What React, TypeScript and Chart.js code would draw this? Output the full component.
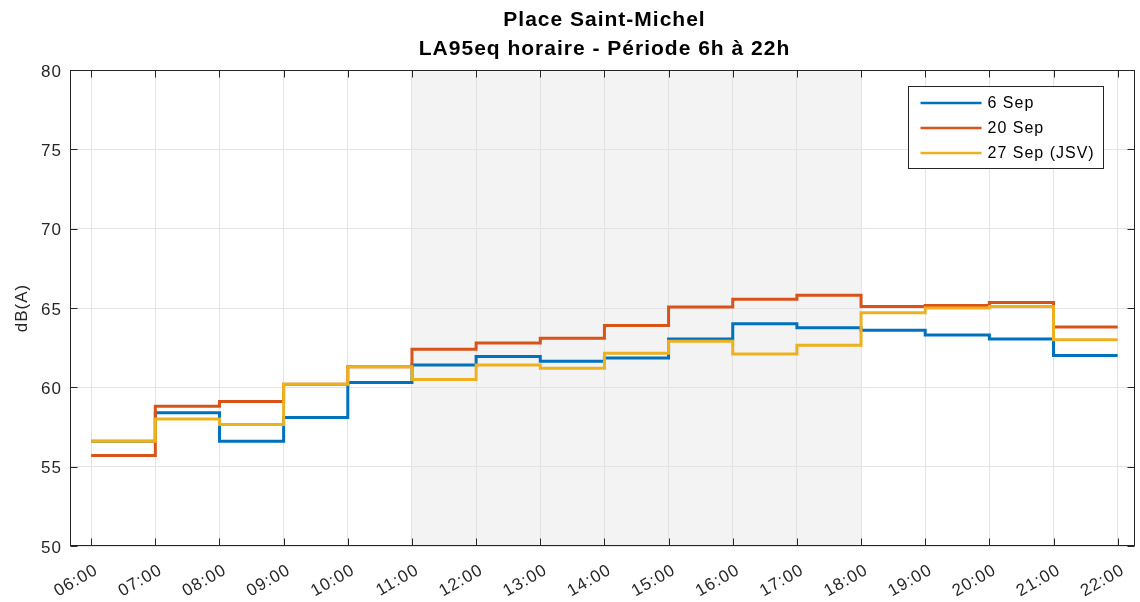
import React, { useEffect, useRef } from "react";
import { Chart, registerables } from "chart.js";

Chart.register(...registerables);

const TITLE_LINES = ["Place Saint-Michel", "LA95eq horaire - Période 6h à 22h"];
const Y_TITLE = "dB(A)";
const HOURS = [6, 7, 8, 9, 10, 11, 12, 13, 14, 15, 16, 17, 18, 19, 20, 21, 22];
const HOUR_LABELS = [
  "06:00", "07:00", "08:00", "09:00", "10:00", "11:00", "12:00", "13:00", "14:00",
  "15:00", "16:00", "17:00", "18:00", "19:00", "20:00", "21:00", "22:00",
];
const Y_TICKS = [50, 55, 60, 65, 70, 75, 80];
const SEP6 = [56.6, 58.4, 56.6, 58.1, 60.3, 61.4, 61.95, 61.65, 61.85, 63.05, 64.0, 63.75, 63.6, 63.3, 63.05, 62.0, 62.0];
const SEP20 = [55.7, 58.8, 59.1, 60.2, 61.3, 62.4, 62.8, 63.1, 63.9, 65.06, 65.55, 65.8, 65.1, 65.15, 65.35, 63.8, 63.8];
const SEP27 = [56.6, 58.0, 57.65, 60.2, 61.3, 60.5, 61.4, 61.2, 62.15, 62.9, 62.1, 62.65, 64.7, 65.0, 65.1, 63.0, 63.0];
const SERIES_NAMES = ["6 Sep", "20 Sep", "27 Sep (JSV)"];
const SERIES_COLORS = ["#0072BD", "#D95319", "#EDB120"];
const SHADE_START = 11;
const SHADE_END = 18;
const Y_MIN = 50;
const Y_MAX = 80;
const X_MIN = 5.67;
const X_MAX = 22.27;

const FONT = "'Liberation Sans', Arial, Helvetica, sans-serif";
const AX = "#262626";

const decorPlugin = {
  id: "decor",
  beforeDraw(chart: any) {
    const { ctx, chartArea: a, scales } = chart;
    const x0 = scales.x.getPixelForValue(SHADE_START);
    const x1 = scales.x.getPixelForValue(SHADE_END);
    ctx.save();
    ctx.fillStyle = "#f3f3f3";
    ctx.fillRect(x0, a.top, x1 - x0, a.bottom - a.top);
    ctx.restore();
  },
  afterDraw(chart: any) {
    const { ctx, chartArea: a, scales } = chart;
    ctx.save();
    ctx.letterSpacing = "1px";
    // title
    ctx.fillStyle = "#000";
    ctx.font = `bold 21px ${FONT}`;
    ctx.textAlign = "center";
    ctx.textBaseline = "middle";
    const cx = (a.left + a.right) / 2 + 2;
    ctx.fillText(TITLE_LINES[0], cx, 20);
    ctx.fillText(TITLE_LINES[1], cx, 49);
    // y title
    ctx.save();
    ctx.translate(22, (a.top + a.bottom) / 2);
    ctx.rotate(-Math.PI / 2);
    ctx.fillStyle = AX;
    ctx.font = `17px ${FONT}`;
    ctx.fillText(Y_TITLE, 0, 0);
    ctx.restore();
    // y tick labels
    ctx.fillStyle = AX;
    ctx.font = `17px ${FONT}`;
    ctx.textAlign = "right";
    ctx.textBaseline = "middle";
    Y_TICKS.forEach((v) => {
      ctx.fillText(String(v), a.left - 8, scales.y.getPixelForValue(v) + 2);
    });
    // x tick labels
    ctx.textBaseline = "alphabetic";
    HOURS.forEach((h, i) => {
      const x = scales.x.getPixelForValue(h);
      ctx.save();
      ctx.translate(x + 8, a.bottom + 27);
      ctx.rotate(-Math.PI / 6);
      ctx.fillText(HOUR_LABELS[i], 0, 0);
      ctx.restore();
    });
    // box
    ctx.strokeStyle = AX;
    ctx.lineWidth = 1;
    const L = Math.round(a.left) + 0.5;
    const R = Math.round(a.right) - 0.5;
    const T = Math.round(a.top) + 0.5;
    const B = Math.round(a.bottom) - 0.5;
    ctx.strokeRect(L, T, R - L, B - T);
    // ticks
    const tl = 7;
    ctx.beginPath();
    HOURS.forEach((h) => {
      const x = Math.round(scales.x.getPixelForValue(h)) + 0.5;
      ctx.moveTo(x, B);
      ctx.lineTo(x, B - tl);
      ctx.moveTo(x, T);
      ctx.lineTo(x, T + tl);
    });
    Y_TICKS.forEach((v) => {
      const y = Math.round(scales.y.getPixelForValue(v)) + 0.5;
      ctx.moveTo(L, y);
      ctx.lineTo(L + tl, y);
      ctx.moveTo(R, y);
      ctx.lineTo(R - tl, y);
    });
    ctx.stroke();
    // legend
    const bw = 195;
    const bh = 82;
    const bx = Math.round(a.right - 32 - bw) + 0.5;
    const by = Math.round(a.top + 16) + 0.5;
    ctx.fillStyle = "#fff";
    ctx.fillRect(bx, by, bw, bh);
    ctx.strokeStyle = AX;
    ctx.strokeRect(bx, by, bw, bh);
    ctx.font = `16px ${FONT}`;
    ctx.textAlign = "left";
    ctx.textBaseline = "middle";
    SERIES_NAMES.forEach((name, i) => {
      const y = by + 16.5 + i * 25;
      ctx.strokeStyle = SERIES_COLORS[i];
      ctx.lineWidth = 2.5;
      ctx.beginPath();
      ctx.moveTo(bx + 12, y);
      ctx.lineTo(bx + 73, y);
      ctx.stroke();
      ctx.fillStyle = "#000";
      ctx.fillText(name, bx + 79, y + 1);
    });
    ctx.restore();
  },
};

export default function App() {
  const ref = useRef<HTMLCanvasElement>(null);
  useEffect(() => {
    document.body.style.margin = "0";
    const mk = (d: number[]) => HOURS.map((h, i) => ({ x: h, y: d[i] }));
    const chart = new Chart(ref.current!, {
      type: "line",
      data: {
        datasets: [SEP6, SEP20, SEP27].map((d, i) => ({
          label: SERIES_NAMES[i],
          data: mk(d),
          borderColor: SERIES_COLORS[i],
          backgroundColor: SERIES_COLORS[i],
          borderWidth: 3,
          pointRadius: 0,
          stepped: true,
          fill: false,
          order: 2 - i,
        })),
      },
      options: {
        animation: false,
        responsive: false,
        maintainAspectRatio: false,
        layout: { padding: { left: 0, top: 70, right: 5, bottom: 0 } },
        plugins: { legend: { display: false }, title: { display: false }, tooltip: { enabled: false } },
        scales: {
          x: {
            type: "linear",
            min: X_MIN,
            max: X_MAX,
            afterBuildTicks: (s: any) => {
              s.ticks = HOURS.map((h) => ({ value: h }));
            },
            afterFit: (s: any) => {
              s.height = 56;
            },
            grid: { color: "#e3e3e3", drawTicks: false },
            border: { display: false },
            ticks: { display: false, autoSkip: false },
          },
          y: {
            min: Y_MIN,
            max: Y_MAX,
            afterBuildTicks: (s: any) => {
              s.ticks = Y_TICKS.map((v) => ({ value: v }));
            },
            afterFit: (s: any) => {
              s.width = 70;
            },
            grid: { color: "#e3e3e3", drawTicks: false },
            border: { display: false },
            ticks: { display: false },
          },
        },
      },
      plugins: [decorPlugin],
    });
    return () => chart.destroy();
  }, []);
  return (
    <div style={{ position: "fixed", left: 0, top: 0, width: 1140, height: 602 }}>
      <canvas ref={ref} width={1140} height={602} style={{ width: 1140, height: 602 }} />
    </div>
  );
}
